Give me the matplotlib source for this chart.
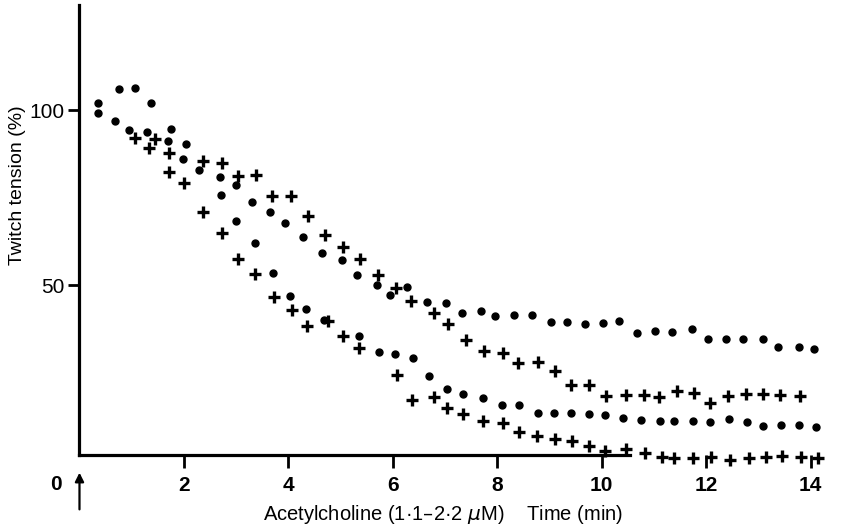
import matplotlib
matplotlib.use("Agg")
import matplotlib.pyplot as plt

# upper dot series
dots_hi_t = [0.36, 0.76, 1.07, 1.37, 1.76, 2.04, 2.69, 3.0, 3.30, 3.65, 3.94, 4.28, 4.64, 5.02,
             5.32, 5.69, 5.95, 6.27, 6.66, 7.02, 7.32, 7.68, 7.96, 8.32, 8.66, 9.02, 9.34, 9.67,
             10.03, 10.33, 10.67, 11.02, 11.35, 11.72, 12.03, 12.37, 12.71, 13.08, 13.37, 13.78, 14.06]
dots_hi_v = [102.1, 106, 106.4, 101.9, 94.6, 90.2, 80.9, 78.6, 73.8, 70.9, 67.8, 63.8, 59.1, 57.3,
             53, 50, 47.1, 49.5, 45.2, 44.9, 42.1, 42.6, 41.1, 41.4, 41.4, 39.5, 39.3, 38.8,
             39.1, 39.8, 36.4, 36.9, 36.6, 37.4, 34.5, 34.5, 34.5, 34.5, 32.2, 32.2, 31.7]

# lower dot series
dots_lo_t = [0.35, 0.68, 0.95, 1.29, 1.69, 1.99, 2.28, 2.71, 3.0, 3.36, 3.70, 4.03, 4.33, 4.69,
             5.36, 5.74, 6.04, 6.38, 6.69, 7.03, 7.35, 7.73, 8.09, 8.42, 8.77, 9.09, 9.41, 9.75,
             10.06, 10.4, 10.75, 11.12, 11.38, 11.74, 12.07, 12.44, 12.79, 13.08, 13.43, 13.78, 14.11]
dots_lo_v = [99.2, 96.9, 94.3, 93.7, 91.1, 85.9, 82.9, 75.7, 68.4, 61.9, 53.5, 46.9, 43.1, 40,
             35.4, 30.9, 30.2, 29.2, 24, 20.3, 18.8, 17.8, 15.7, 15.7, 13.5, 13.5, 13.3, 13.1,
             12.9, 11.9, 11.4, 11.2, 11.2, 11.2, 10.8, 11.6, 10.8, 9.7, 10, 10, 9.5]

# upper cross series
cross_hi_t = [1.44, 1.71, 2.36, 2.72, 3.04, 3.38, 3.68, 4.05, 4.38, 4.70, 5.04, 5.37, 5.71, 6.06,
              6.34, 6.78, 7.05, 7.41, 7.74, 8.1, 8.39, 8.78, 9.11, 9.41, 9.75, 10.09, 10.46,
              10.8, 11.1, 11.44, 11.77, 12.07, 12.42, 12.76, 13.08, 13.41, 13.8]
cross_hi_v = [91.7, 87.8, 85.5, 84.9, 81.1, 81.4, 75.5, 75.4, 69.8, 64.3, 60.8, 57.4, 53, 49.2,
              45.4, 41.9, 39, 34.3, 31.1, 30.5, 27.6, 28.1, 25.4, 21.4, 21.4, 18.4, 18.6,
              18.6, 18.1, 19.8, 19.2, 16.2, 18.4, 18.8, 18.8, 18.6, 18.4]

# lower cross series
cross_lo_t = [1.07, 1.34, 1.71, 2.0, 2.36, 2.72, 3.04, 3.36, 3.72, 4.06, 4.35, 4.76, 5.05, 5.36,
              6.07, 6.36, 6.78, 7.03, 7.35, 7.73, 8.1, 8.42, 8.76, 9.11, 9.43, 9.76, 10.06,
              10.46, 10.82, 11.15, 11.38, 11.74, 12.1, 12.45, 12.82, 13.14, 13.46, 13.81, 14.15]
cross_lo_v = [92.1, 89.2, 82.2, 79.2, 70.9, 64.8, 57.4, 53.3, 46.7, 43, 38.3, 39.8, 35.5, 32.1,
              24.3, 17.1, 18.1, 14.8, 13.1, 11.1, 10.5, 8.1, 6.9, 5.9, 5.4, 4.1, 2.6,
              3.1, 1.9, 0.9, 0.5, 0.5, 0.8, 0, 0.7, 0.9, 1.1, 0.9, 0.7]

x_ticks = [2, 4, 6, 8, 10, 12, 14]
y_ticks = [50, 100]

narrow = ['Liberation Sans Narrow', 'Liberation Sans', 'DejaVu Sans']
plt.rcParams['font.family'] = ['Liberation Sans', 'DejaVu Sans']

fig = plt.figure(figsize=(8.42, 5.25), dpi=100)
ax = fig.add_axes([0.0944, 0.1333, 0.9056, 0.857])

dot_kw = dict(linestyle='none', marker='o', ms=5, color='black', clip_on=False)
cross_kw = dict(linestyle='none', marker='+', ms=9, mew=2.4, color='black', clip_on=False)
ax.plot(dots_hi_t, dots_hi_v, **dot_kw)
ax.plot(dots_lo_t, dots_lo_v, **dot_kw)
ax.plot(cross_hi_t, cross_hi_v, **cross_kw)
ax.plot(cross_lo_t, cross_lo_v, **cross_kw)

ax.set_xlim(0, 14.6)
ax.set_ylim(1.43, 130)
for s in ['top', 'right']:
    ax.spines[s].set_visible(False)
for s in ['left', 'bottom']:
    ax.spines[s].set_linewidth(2.3)
ax.spines['bottom'].set_bounds(0, 10.55)

ax.set_xticks(x_ticks)
ax.set_xticklabels([str(t) for t in x_ticks], family=narrow, fontsize=15, fontweight='bold')
ax.set_yticks(y_ticks)
ax.set_yticklabels([str(t) for t in y_ticks], fontsize=15)
ax.tick_params(axis='x', direction='out', length=9, width=2, pad=6)
ax.tick_params(axis='y', direction='out', length=8, width=2, pad=3)

# zero mark and arrow for the acetylcholine addition
ax.text(-0.45, -0.065, '0', transform=ax.get_xaxis_transform(), ha='center', va='center',
        family=narrow, fontsize=15, fontweight='bold')
ax.annotate('', xy=(0, -0.033), xytext=(0, -0.127), xycoords=('data', 'axes fraction'),
            textcoords=('data', 'axes fraction'), annotation_clip=False,
            arrowprops=dict(arrowstyle='-|>', color='black', lw=1.6, mutation_scale=13))

fig.text(443 / 842, 1 - 515 / 525, 'Acetylcholine (1·1–2·2 $\\mu$M)    Time (min)',
         ha='center', va='center', family=narrow, fontsize=14.5)
fig.text(18 / 842, 1 - 185 / 525, 'Twitch tension (%)', rotation=90,
         ha='center', va='center', fontsize=14)

fig.savefig('out.png', dpi=100)
